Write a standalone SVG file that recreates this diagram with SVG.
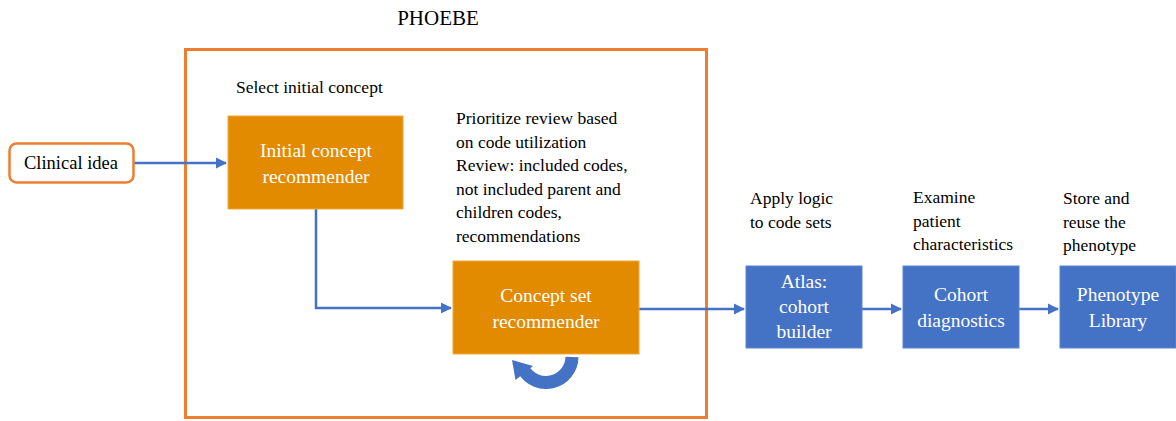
<svg xmlns="http://www.w3.org/2000/svg" width="1176" height="421" viewBox="0 0 1176 421">
<defs>
<style>
text{font-family:'Liberation Serif','DejaVu Serif',serif}
.t{font-size:17.5px;fill:#000}
.w{font-size:19.5px;fill:#fff;text-anchor:middle}
.ob{fill:#E28A00;stroke:#F2A93B;stroke-width:1}
.bb{fill:#4472C4;stroke:#5A86D0;stroke-width:1}
.c{fill:none;stroke:#4472C4;stroke-width:2.5}
</style>
<marker id="ah" viewBox="0 0 10 10" refX="9" refY="5" markerWidth="4.5" markerHeight="4.5" orient="auto" markerUnits="strokeWidth">
<path d="M0,0 L10,5 L0,10 z" fill="#4472C4"/>
</marker>
</defs>
<rect width="1176" height="421" fill="#fff"/>
<text x="438" y="25" class="t" text-anchor="middle" style="font-size:21px">PHOEBE</text>
<g id="phoebe-frame"><rect x="185.5" y="49.5" width="521" height="368" fill="none" stroke="#ED7D31" stroke-width="3"/></g>
<g id="connectors">
<path class="c" d="M133,163 H226" marker-end="url(#ah)"/>
<path class="c" d="M316,209 V308 H451" marker-end="url(#ah)"/>
<path class="c" d="M639,309 H744" marker-end="url(#ah)"/>
<path class="c" d="M862,309 H901" marker-end="url(#ah)"/>
<path class="c" d="M1019,309 H1058" marker-end="url(#ah)"/>
<g id="loop">
<path d="M572,357 A26,26 0 0 1 523.5,369.5" fill="none" stroke="#4472C4" stroke-width="13"/>
<path d="M512,360 L515.5,380 L533,366 z" fill="#4472C4"/>
</g>
</g>
<g id="clinical-idea">
<rect x="9.5" y="143.5" width="124" height="39" rx="7" fill="#fff" stroke="#ED7D31" stroke-width="2.5"/>
<text x="71" y="169" class="t" text-anchor="middle" style="font-size:18.5px">Clinical idea</text>
</g>
<g id="initial-concept-recommender">
<text x="236" y="93" class="t">Select initial concept</text>
<rect x="228" y="116" width="175" height="93" class="ob"/>
<text x="316" y="157" class="w">Initial concept</text>
<text x="316" y="183" class="w">recommender</text>
</g>
<g id="concept-set-recommender">
<text class="t"><tspan x="456" y="124">Prioritize review based</tspan><tspan x="456" y="148">on code utilization</tspan><tspan x="456" y="171">Review: included codes,</tspan><tspan x="456" y="195">not included parent and</tspan><tspan x="456" y="218">children codes,</tspan><tspan x="456" y="242">recommendations</tspan></text>
<rect x="453" y="261" width="186" height="93" class="ob"/>
<text x="546" y="302" class="w">Concept set</text>
<text x="546" y="328" class="w">recommender</text>
</g>
<g id="atlas">
<text class="t"><tspan x="750" y="204">Apply logic</tspan><tspan x="750" y="228">to code sets</tspan></text>
<rect x="746" y="266" width="116" height="82" class="bb"/>
<text x="804" y="288" class="w">Atlas:</text>
<text x="804" y="313" class="w">cohort</text>
<text x="804" y="338" class="w">builder</text>
</g>
<g id="cohort-diagnostics">
<text class="t"><tspan x="913" y="203">Examine</tspan><tspan x="913" y="227">patient</tspan><tspan x="913" y="250">characteristics</tspan></text>
<rect x="903" y="266" width="116" height="82" class="bb"/>
<text x="961" y="301" class="w">Cohort</text>
<text x="961" y="327" class="w">diagnostics</text>
</g>
<g id="phenotype-library">
<text class="t"><tspan x="1063" y="204">Store and</tspan><tspan x="1063" y="228">reuse the</tspan><tspan x="1063" y="251">phenotype</tspan></text>
<rect x="1060" y="266" width="116" height="82" class="bb"/>
<text x="1118" y="301" class="w">Phenotype</text>
<text x="1118" y="327" class="w">Library</text>
</g>
</svg>
